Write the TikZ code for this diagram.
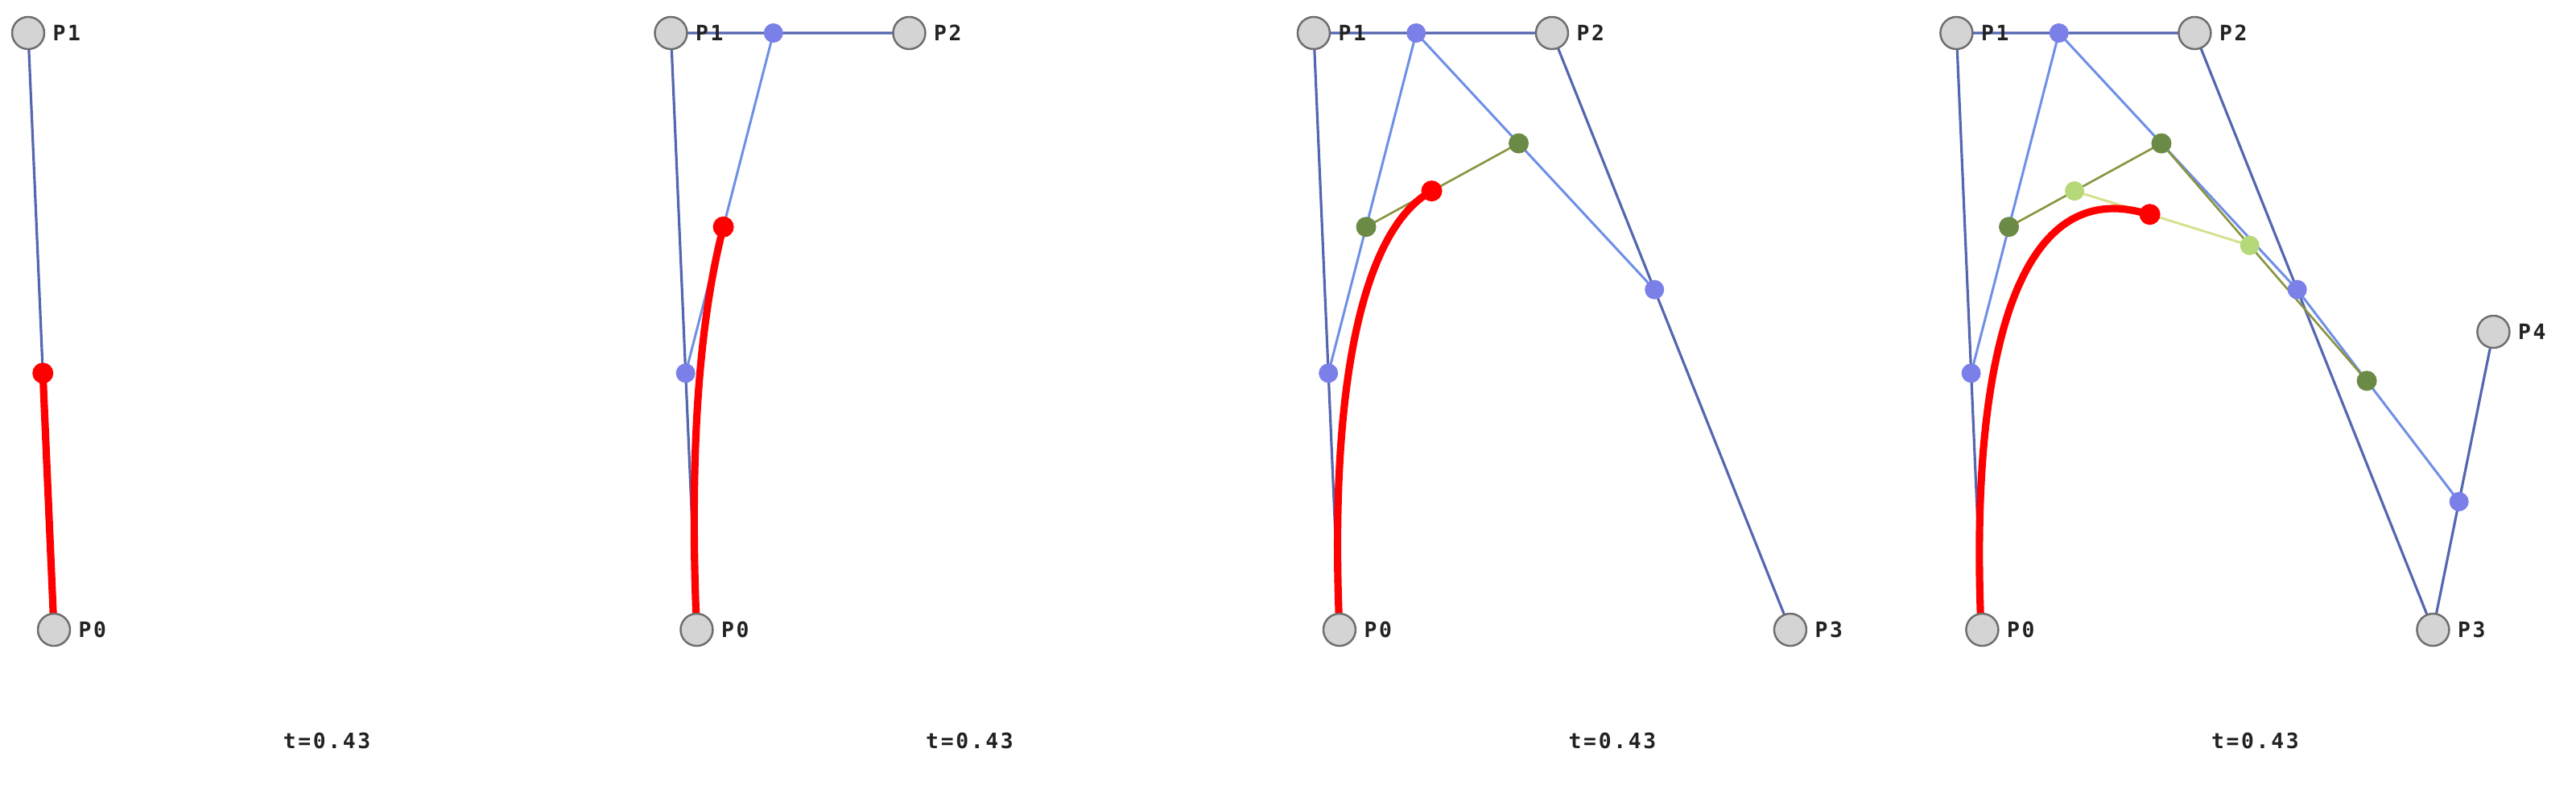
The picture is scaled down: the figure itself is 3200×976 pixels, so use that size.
\documentclass[tikz,border=0pt]{standalone}
\usepackage{fontspec}
\newfontfamily\lblfont[LetterSpace=10]{DejaVu Sans Mono}
\definecolor{polyblue}{HTML}{5566B0}
\definecolor{l2blue}{HTML}{6F8FE6}
\definecolor{bluedotc}{HTML}{7A80E8}
\definecolor{greendotc}{HTML}{6B8A45}
\definecolor{olivec}{HTML}{8A9440}
\definecolor{lgreendotc}{HTML}{B5D878}
\definecolor{palec}{HTML}{D8E090}
\definecolor{ctrlfill}{HTML}{D4D4D4}
\definecolor{ctrldraw}{HTML}{6E6E6E}
\definecolor{txtc}{HTML}{222222}
\newcommand\defpts[1]{%
  \coordinate (#1P0) at (67,782);
  \coordinate (#1P1) at (35,41);
  \coordinate (#1P2) at (331,41);
  \coordinate (#1P3) at (627,782);
  \coordinate (#1P4) at (702,412);
  \coordinate (#1Q0) at (53.24,463.37);
  \coordinate (#1Q1) at (162.28,41);
  \coordinate (#1Q2) at (458.28,359.63);
  \coordinate (#1Q3) at (659.25,622.9);
  \coordinate (#1R0) at (100.13,281.75);
  \coordinate (#1R1) at (289.56,178.01);
  \coordinate (#1R2) at (544.70,472.84);
  \coordinate (#1S0) at (181.58,237.14);
  \coordinate (#1S1) at (399.27,304.79);
  \coordinate (#1B) at (275.19,266.23);
  \coordinate (#1C1) at (57.83,569.58);
  \coordinate (#1C2) at (68.87,402.83);
  \coordinate (#1T) at (406,920);
}
\tikzset{
  ctrl/.style={circle, draw=ctrldraw, fill=ctrlfill, line width=0.7pt, minimum size=0.40cm, inner sep=0pt},
  bdot/.style={circle, fill=bluedotc, minimum size=0.24cm, inner sep=0pt},
  gdot/.style={circle, fill=greendotc, minimum size=0.25cm, inner sep=0pt},
  lgdot/.style={circle, fill=lgreendotc, minimum size=0.24cm, inner sep=0pt},
  rdot/.style={circle, fill=red, minimum size=0.26cm, inner sep=0pt},
  poly/.style={draw=polyblue, line width=0.9pt},
  lvtwo/.style={draw=l2blue, line width=0.85pt},
  lvthree/.style={draw=olivec, line width=0.75pt},
  lvfour/.style={draw=palec, line width=0.85pt},
  redc/.style={draw=red, line width=2.6pt},
  lbl/.style={font=\lblfont\bfseries\fontsize{7.5}{9}\selectfont, text=txtc, inner sep=0pt},
  plbl/.style={lbl, anchor=west, xshift=0.30cm}
}
\begin{document}
\begin{tikzpicture}[x=0.01cm, y=-0.01cm]
\useasboundingbox (0,0) rectangle (3200,976);
% ---------- panel 1 ----------
\defpts{a}
\draw[poly] (aP0) -- (aP1);
\draw[redc] (aP0) -- (aQ0);
\node[rdot] (aq0) at (aQ0) {};
\node[ctrl] (ap0) at (aP0) {};
\node[ctrl] (ap1) at (aP1) {};
\node[plbl] (al0) at (aP0) {P0};
\node[plbl] (al1) at (aP1) {P1};
\node[lbl] (at) at (aT) {t=0.43};
% ---------- panel 2 ----------
\begin{scope}[xshift=7.98cm]
\defpts{b}
\end{scope}
\draw[poly] (bP0) -- (bP1) -- (bP2);
\draw[lvtwo] (bQ0) -- (bQ1);
\draw[redc] (bP0) .. controls (bC1) and (bC2) .. (bR0);
\node[bdot] (bq0) at (bQ0) {};
\node[bdot] (bq1) at (bQ1) {};
\node[rdot] (br0) at (bR0) {};
\node[ctrl] (bp0) at (bP0) {};
\node[ctrl] (bp1) at (bP1) {};
\node[ctrl] (bp2) at (bP2) {};
\node[plbl] (bl0) at (bP0) {P0};
\node[plbl] (bl1) at (bP1) {P1};
\node[plbl] (bl2) at (bP2) {P2};
\node[lbl] (bt) at (bT) {t=0.43};
% ---------- panel 3 ----------
\begin{scope}[xshift=15.96cm]
\defpts{c}
\end{scope}
\draw[poly] (cP0) -- (cP1) -- (cP2) -- (cP3);
\draw[lvtwo] (cQ0) -- (cQ1) -- (cQ2);
\draw[lvthree] (cR0) -- (cR1);
\draw[redc] (cP0) .. controls (cQ0) and (cR0) .. (cS0);
\node[bdot] (cq0) at (cQ0) {};
\node[bdot] (cq1) at (cQ1) {};
\node[bdot] (cq2) at (cQ2) {};
\node[gdot] (cr0) at (cR0) {};
\node[gdot] (cr1) at (cR1) {};
\node[rdot] (cs0) at (cS0) {};
\node[ctrl] (cp0) at (cP0) {};
\node[ctrl] (cp1) at (cP1) {};
\node[ctrl] (cp2) at (cP2) {};
\node[ctrl] (cp3) at (cP3) {};
\node[plbl] (cl0) at (cP0) {P0};
\node[plbl] (cl1) at (cP1) {P1};
\node[plbl] (cl2) at (cP2) {P2};
\node[plbl] (cl3) at (cP3) {P3};
\node[lbl] (ct) at (cT) {t=0.43};
% ---------- panel 4 ----------
\begin{scope}[xshift=23.94cm]
\defpts{d}
\end{scope}
\draw[poly] (dP0) -- (dP1) -- (dP2) -- (dP3) -- (dP4);
\draw[lvtwo] (dQ0) -- (dQ1) -- (dQ2) -- (dQ3);
\draw[lvthree] (dR0) -- (dR1) -- (dR2);
\draw[lvfour] (dS0) -- (dS1);
\draw[redc] plot[domain=0:0.43, samples=60, smooth, variable=\t]
  ({2394 + (1-\t)^4*67 + 4*(1-\t)^3*\t*35 + 6*(1-\t)^2*\t^2*331 + 4*(1-\t)*\t^3*627 + \t^4*702},
   {(1-\t)^4*782 + 4*(1-\t)^3*\t*41 + 6*(1-\t)^2*\t^2*41 + 4*(1-\t)*\t^3*782 + \t^4*412});
\node[bdot] (dq0) at (dQ0) {};
\node[bdot] (dq1) at (dQ1) {};
\node[bdot] (dq2) at (dQ2) {};
\node[bdot] (dq3) at (dQ3) {};
\node[gdot] (dr0) at (dR0) {};
\node[gdot] (dr1) at (dR1) {};
\node[gdot] (dr2) at (dR2) {};
\node[lgdot] (ds0) at (dS0) {};
\node[lgdot] (ds1) at (dS1) {};
\node[rdot] (db) at (dB) {};
\node[ctrl] (dp0) at (dP0) {};
\node[ctrl] (dp1) at (dP1) {};
\node[ctrl] (dp2) at (dP2) {};
\node[ctrl] (dp3) at (dP3) {};
\node[ctrl] (dp4) at (dP4) {};
\node[plbl] (dl0) at (dP0) {P0};
\node[plbl] (dl1) at (dP1) {P1};
\node[plbl] (dl2) at (dP2) {P2};
\node[plbl] (dl3) at (dP3) {P3};
\node[plbl] (dl4) at (dP4) {P4};
\node[lbl] (dt) at (dT) {t=0.43};
\end{tikzpicture}
\end{document}
